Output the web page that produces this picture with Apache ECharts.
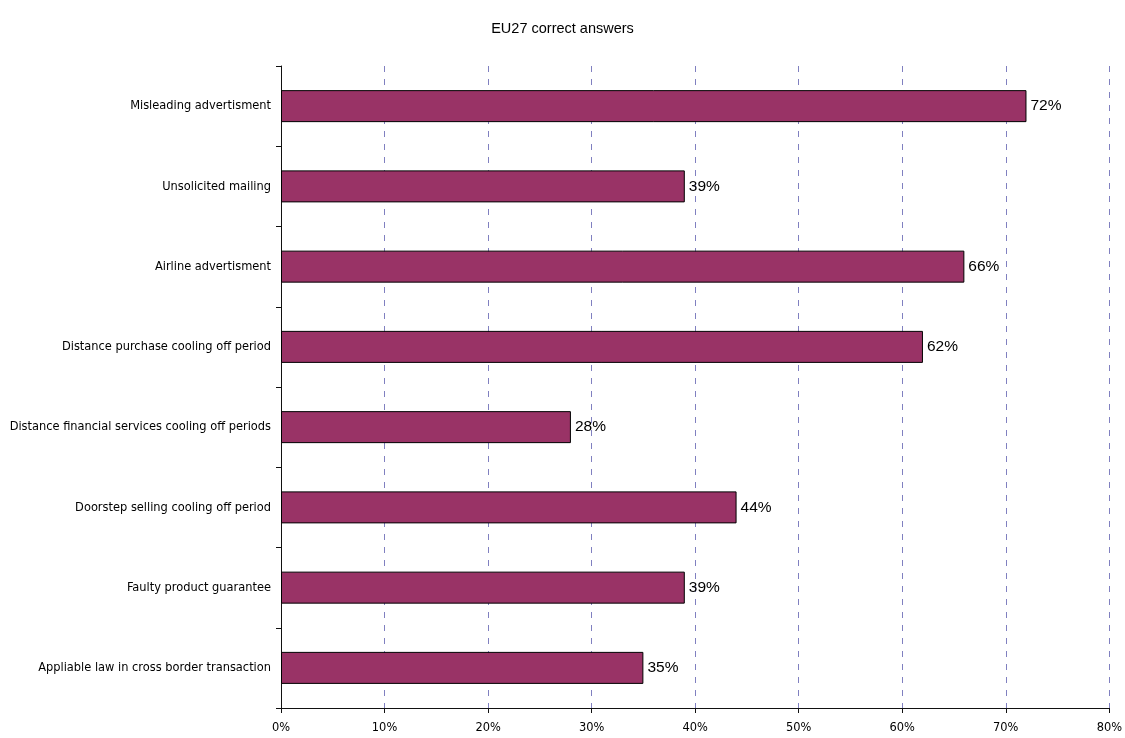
<!DOCTYPE html>
<html>
<head>
<meta charset="utf-8">
<script src="https://cdn.jsdelivr.net/npm/echarts@6/dist/echarts.min.js"></script>
<style>html,body{margin:0;padding:0;background:#fff;}#c{width:1125px;height:738px;}</style>
</head>
<body>
<div id="c"></div>
<script>
const titleText = "EU27 correct answers";
const categories = [
  "Misleading advertisment",
  "Unsolicited mailing",
  "Airline advertisment",
  "Distance purchase cooling off period",
  "Distance financial services cooling off periods",
  "Doorstep selling cooling off period",
  "Faulty product guarantee",
  "Appliable law in cross border transaction"
];
const values = [72, 39, 66, 62, 28, 44, 39, 35];
const xTicks = [0, 10, 20, 30, 40, 50, 60, 70, 80];

const chart = echarts.init(document.getElementById('c'));
chart.setOption({
  animation: false,
  backgroundColor: '#fff',
  title: {
    text: titleText,
    left: 'center',
    top: 16,
    textStyle: { fontFamily: 'Liberation Sans', fontSize: 14.5, fontWeight: 'normal', color: '#000' }
  },
  grid: { left: 281, right: 12, top: 66, bottom: 30, containLabel: false },
  xAxis: {
    type: 'value',
    min: xTicks[0],
    max: xTicks[xTicks.length - 1],
    interval: 10,
    axisLine: { show: true, lineStyle: { color: '#111', width: 1 } },
    axisTick: { show: true, length: 5, lineStyle: { color: '#111' } },
    axisLabel: {
      formatter: v => v + '%',
      fontFamily: 'DejaVu Sans Condensed',
      fontSize: 12.7,
      color: '#000',
      margin: 13
    },
    splitLine: { show: true, lineStyle: { color: '#8080c0', width: 1, type: [6, 7] } }
  },
  yAxis: {
    type: 'category',
    data: categories,
    inverse: true,
    axisLine: { show: true, lineStyle: { color: '#111', width: 1 } },
    axisTick: { show: true, length: 5, lineStyle: { color: '#111' } },
    axisLabel: {
      fontFamily: 'DejaVu Sans Condensed',
      fontSize: 12.7,
      color: '#000',
      margin: 10
    },
    splitLine: { show: false }
  },
  series: [{
    type: 'bar',
    data: values,
    barWidth: 32,
    itemStyle: { color: '#993366', borderColor: '#000', borderWidth: 1 },
    label: {
      show: true,
      position: 'right',
      distance: 4,
      formatter: p => p.value + '%',
      fontFamily: 'Liberation Sans',
      fontSize: 15.5,
      color: '#000'
    }
  }]
});
</script>
</body>
</html>
